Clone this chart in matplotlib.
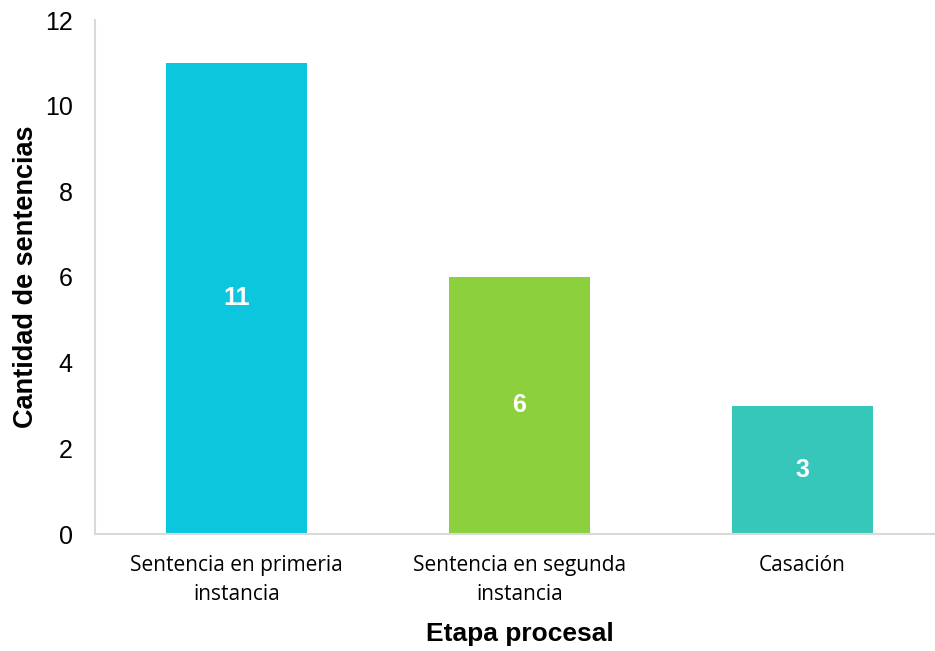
import matplotlib
matplotlib.use("Agg")
import matplotlib.pyplot as plt
import numpy as np

# datos del grafico
etapas = ["Sentencia en primeria\ninstancia", "Sentencia en segunda\ninstancia", "Casación"]
cantidades = [11, 6, 3]
colores = ["#0CC6DE", "#8DD03E", "#36C7BA"]
yticks = [0, 2, 4, 6, 8, 10, 12]

fig = plt.figure(figsize=(9.35, 6.51), dpi=100)
ax = fig.add_axes([95 / 935, 117 / 651, 849 / 935, 514 / 651])

x = np.arange(len(etapas))
bars = ax.bar(x, cantidades, width=0.5, color=colores, zorder=2)

# etiquetas blancas en el centro de cada barra
for b, v in zip(bars, cantidades):
    ax.text(b.get_x() + b.get_width() / 2, v / 2, str(v), ha="center", va="center",
            color="white", fontsize=18, fontweight="bold", family="Liberation Sans")

ax.set_xlim(-0.5, 2.5)
ax.set_ylim(0, 12)
ax.set_yticks(yticks)
ax.set_yticklabels([str(t) for t in yticks], family="Liberation Sans", fontsize=18)
ax.set_xticks(x)
ax.set_xticklabels(etapas, family="Open Sans", fontsize=15, linespacing=1.5)
ax.tick_params(axis="both", length=0)
ax.tick_params(axis="x", pad=15)
ax.tick_params(axis="y", pad=16)

for s in ["top", "right"]:
    ax.spines[s].set_visible(False)
for s in ["left", "bottom"]:
    ax.spines[s].set_color("#D9D9D9")
    ax.spines[s].set_linewidth(1.5)

ax.set_ylabel("Cantidad de sentencias", family="Liberation Sans", fontsize=19.5,
              fontweight="bold")
ax.yaxis.set_label_coords(-56 / 849, 0.5)
ax.set_xlabel("Etapa procesal", family="Liberation Sans", fontsize=19,
              fontweight="bold", labelpad=12)

fig.savefig("out.png", dpi=100)
